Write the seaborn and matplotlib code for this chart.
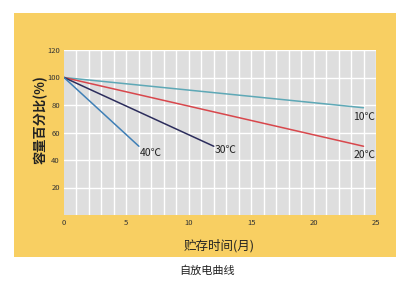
import matplotlib
matplotlib.use("Agg")
import matplotlib.pyplot as plt
import seaborn as sns
import pandas as pd
from matplotlib.patches import Rectangle

sns.set_theme(style="white")
plt.rcParams['font.family'] = ['Noto Sans CJK SC', 'DejaVu Sans']

# Data
series = ["10℃", "20℃", "30℃", "40℃"]
months_10 = [0, 24]
cap_10 = [100, 78]
months_20 = [0, 24]
cap_20 = [100, 50]
months_30 = [0, 12]
cap_30 = [100, 50]
months_40 = [0, 6]
cap_40 = [100, 50]
colors = ["#5ea8b6", "#d8474c", "#2c2d5c", "#3f7fb6"]

x_ticks = [0, 5, 10, 15, 20, 25]
y_ticks = [20, 40, 60, 80, 100, 120]
xlabel = "贮存时间(月)"
ylabel = "容量百分比(%)"
title = "自放电曲线"

rows = []
for name, xs, ys in zip(series, [months_10, months_20, months_30, months_40],
                        [cap_10, cap_20, cap_30, cap_40]):
    for x, y in zip(xs, ys):
        rows.append({"series": name, "month": x, "cap": y})
df = pd.DataFrame(rows)

W, H = 410, 293
fig = plt.figure(figsize=(W / 100, H / 100), dpi=100)
fig.patch.set_facecolor("white")
panel = Rectangle((14 / W, 1 - 257 / H), (396 - 14) / W, (257 - 13) / H,
                  transform=fig.transFigure, facecolor="#f8cf62",
                  edgecolor="none", zorder=-10)
fig.add_artist(panel)

ax = fig.add_axes([64 / W, 1 - 215 / H, (376 - 64) / W, (215 - 50) / H])
ax.set_zorder(5)
ax.set_facecolor("#dedede")
ax.set_xlim(0, 25)
ax.set_ylim(0, 120)
for v in range(1, 26):
    ax.axvline(v, color="white", lw=1.0, zorder=1)
for v in y_ticks:
    ax.axhline(v, color="white", lw=1.0, zorder=1)

sns.lineplot(data=df, x="month", y="cap", hue="series", palette=dict(zip(series, colors)),
             ax=ax, legend=False, lw=1.1, zorder=3)

ax.set_xticks(x_ticks)
ax.set_yticks(y_ticks)
ax.tick_params(axis="both", length=0, labelsize=5.5, colors="#333333", pad=3)
for s in ax.spines.values():
    s.set_visible(False)
ax.set_xlabel("")
ax.set_ylabel("")

# Series labels
ax.text(23.2, 71.5, "10℃", fontsize=7.5, color="#222222", va="center", ha="left")
ax.text(23.2, 43.5, "20℃", fontsize=7.5, color="#222222", va="center", ha="left")
ax.text(12.1, 47.5, "30℃", fontsize=7.5, color="#222222", va="center", ha="left")
ax.text(6.1, 45, "40℃", fontsize=7.5, color="#222222", va="center", ha="left")

fig.text(219 / W, 1 - 246 / H, xlabel, fontsize=9, color="#222222", ha="center", va="center")
fig.text(41 / W, 1 - 120 / H, ylabel, fontsize=9.5, color="#222222", ha="center", va="center",
         rotation=90, fontweight="bold")
fig.text(207 / W, 1 - 271 / H, title, fontsize=8, color="#222222", ha="center", va="center")

fig.savefig("out.png", dpi=100, facecolor="white")
